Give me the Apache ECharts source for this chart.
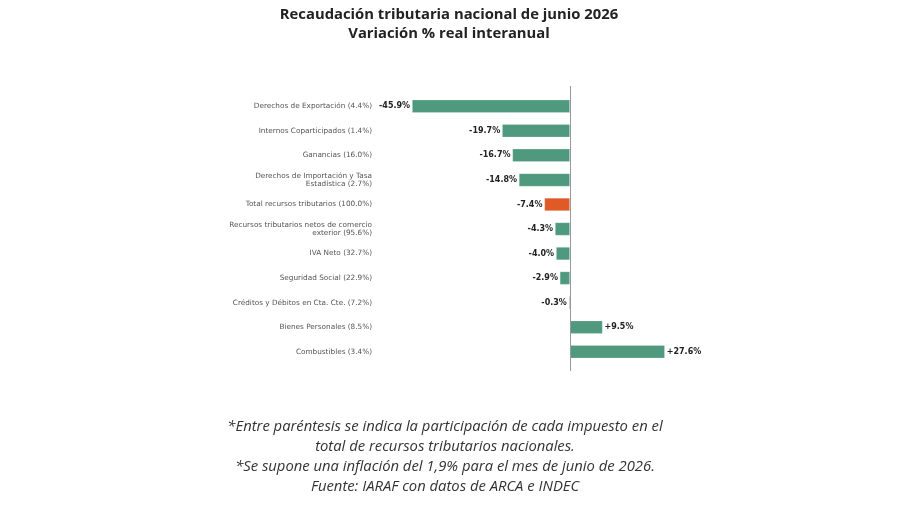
<!DOCTYPE html>
<html>
<head>
<meta charset="utf-8">
<script src="https://cdn.jsdelivr.net/npm/echarts@6/dist/echarts.min.js"></script>
<style>
  html, body { margin: 0; padding: 0; background: #fff; }
  #chart { width: 900px; height: 505px; }
</style>
</head>
<body>
<div id="chart"></div>
<script>
// categorias (de arriba hacia abajo)
var categorias = [
  'Derechos de Exportación (4.4%)',
  'Internos Coparticipados (1.4%)',
  'Ganancias (16.0%)',
  'Derechos de Importación y Tasa\nEstadística (2.7%)',
  'Total recursos tributarios (100.0%)',
  'Recursos tributarios netos de comercio\nexterior (95.6%)',
  'IVA Neto (32.7%)',
  'Seguridad Social (22.9%)',
  'Créditos y Débitos en Cta. Cte. (7.2%)',
  'Bienes Personales (8.5%)',
  'Combustibles (3.4%)'
];
var variacion = [-45.9, -19.7, -16.7, -14.8, -7.4, -4.3, -4.0, -2.9, -0.3, 9.5, 27.6];
var categoriaTotal = 'Total recursos tributarios (100.0%)';

var notas = [
  '*Entre paréntesis se indica la participación de cada impuesto en el',
  'total de recursos tributarios nacionales.',
  '*Se supone una inflación del 1,9% para el mes de junio de 2026.',
  'Fuente: IARAF con datos de ARCA e INDEC'
];

var verde = '#4f9a7e';
var naranja = '#e05a28';

var datos = variacion.map(function(v, i) {
  return {
    value: v,
    itemStyle: { color: categorias[i] === categoriaTotal ? naranja : verde },
    label: { position: v < 0 ? 'left' : 'right' }
  };
});

var chart = echarts.init(document.getElementById('chart'));

var option = {
  backgroundColor: '#fff',
  animation: false,
  title: {
    text: 'Recaudación tributaria nacional de junio 2026\nVariación % real interanual',
    left: 444,
    textAlign: 'center',
    top: 0,
    textStyle: {
      fontFamily: 'Open Sans',
      fontWeight: 'bold',
      fontSize: 14.8,
      lineHeight: 19.5,
      color: '#222'
    }
  },
  grid: [
    { left: 398, right: 227, top: 94, height: 270 },
    // rejilla auxiliar, solo para la linea del cero (mas larga que las barras)
    { left: 398, right: 227, top: 86, height: 285 }
  ],
  xAxis: [
    { type: 'value', min: -50, max: 30, show: false, gridIndex: 0 },
    { type: 'value', min: -50, max: 30, show: false, gridIndex: 1 }
  ],
  yAxis: [{
    type: 'category',
    gridIndex: 0,
    data: categorias,
    inverse: true,
    axisLine: { show: false },
    axisTick: { show: false },
    axisLabel: {
      margin: 26,
      fontFamily: 'DejaVu Sans',
      fontSize: 7.3,
      lineHeight: 8.5,
      color: '#555'
    }
  }, {
    type: 'value', gridIndex: 1, min: 0, max: 1, show: false
  }],
  series: [{
    type: 'bar',
    data: datos,
    barWidth: 13,
    itemStyle: { borderColor: 'rgba(255,255,255,0.4)', borderWidth: 0.5 },
    label: {
      show: true,
      distance: 2,
      fontFamily: 'DejaVu Sans',
      fontWeight: 'bold',
      fontSize: 8,
      color: '#222',
      formatter: function(p) {
        return (p.value > 0 ? '+' : '') + p.value.toFixed(1) + '%';
      }
    }
  }, {
    type: 'line',
    xAxisIndex: 1,
    yAxisIndex: 1,
    data: [[0, 0]],
    showSymbol: false,
    symbolSize: 0,
    lineStyle: { width: 0 },
    silent: true,
    markLine: {
      silent: true,
      symbol: 'none',
      label: { show: false },
      lineStyle: { color: '#999', width: 1, type: 'solid' },
      data: [{ xAxis: 0 }]
    }
  }],
  graphic: notas.map(function(t, i) {
    return {
      type: 'text',
      x: 445,
      y: 419 + i * 20,
      style: {
        text: t,
        align: 'center',
        fontFamily: 'Open Sans',
        fontStyle: 'italic',
        fontSize: 14.8,
        fill: '#333'
      }
    };
  })
};

chart.setOption(option);
</script>
</body>
</html>
